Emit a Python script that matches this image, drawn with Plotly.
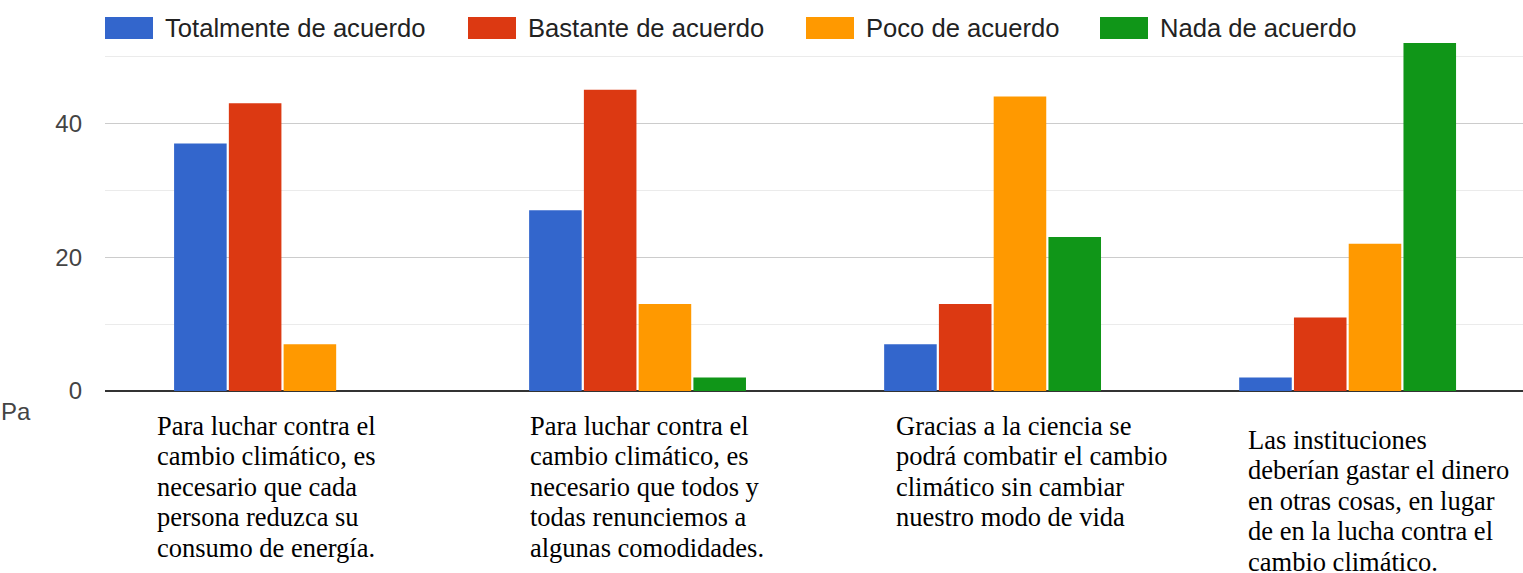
import plotly.graph_objects as go

categories = [
    "Para luchar contra el cambio climático, es necesario que cada persona reduzca su consumo de energía.",
    "Para luchar contra el cambio climático, es necesario que todos y todas renunciemos a algunas comodidades.",
    "Gracias a la ciencia se podrá combatir el cambio climático sin cambiar nuestro modo de vida",
    "Las instituciones deberían gastar el dinero en otras cosas, en lugar de en la lucha contra el cambio climático.",
]
series_names = ["Totalmente de acuerdo", "Bastante de acuerdo", "Poco de acuerdo", "Nada de acuerdo"]
totalmente = [37, 27, 7, 2]
bastante = [43, 45, 13, 11]
poco = [7, 13, 44, 22]
nada = [0, 2, 23, 52]
series_values = [totalmente, bastante, poco, nada]
colors = ["#3366cc", "#dc3912", "#ff9900", "#109618"]

# text boxes overlaid on the category labels (line breaks as in the picture)
label_lines = [
    ["Para luchar contra el", "cambio climático, es", "necesario que cada", "persona reduzca su", "consumo de energía."],
    ["Para luchar contra el", "cambio climático, es", "necesario que todos y", "todas renunciemos a", "algunas comodidades."],
    ["Gracias a la ciencia se", "podrá combatir el cambio", "climático sin cambiar", "nuestro modo de vida"],
    ["Las instituciones", "deberían gastar el dinero", "en otras cosas, en lugar", "de en la lucha contra el", "cambio climático."],
]
y_ticks = [0, 20, 40]

W, H = 1523, 573
ML, MR, MT, MB = 105, 0, 43, 182
PW = W - ML - MR
PH = H - MT - MB


def px(xp):
    return (xp - ML) / PW


def py(yp):
    return (H - MB - yp) / PH


x_idx = list(range(len(categories)))

fig = go.Figure()
for name, vals, col in zip(series_names, series_values, colors):
    fig.add_trace(go.Bar(
        x=x_idx, y=vals, name=name, marker=dict(color=col, line=dict(width=0)),
        showlegend=False,
    ))

shapes = []
annotations = []

# manual legend
leg_sw_x = [105, 468, 806, 1100]
for name, col, sx in zip(series_names, colors, leg_sw_x):
    shapes.append(dict(type="rect", xref="paper", yref="paper",
                       x0=px(sx), x1=px(sx + 48), y0=py(39), y1=py(17),
                       fillcolor=col, line=dict(width=0)))
    annotations.append(dict(xref="paper", yref="paper", x=px(sx + 58), y=py(28),
                            xanchor="left", yanchor="middle", text=name, showarrow=False,
                            font=dict(family="Liberation Sans, Arial, sans-serif", size=25.6, color="#222222")))

# remnant of original label
annotations.append(dict(xref="paper", yref="paper", x=px(-1), y=py(411),
                        xanchor="left", yanchor="middle", text="Pa", showarrow=False,
                        font=dict(family="Liberation Sans, Arial, sans-serif", size=24, color="#444444")))

# overlaid serif text boxes
box_pos = [(155, 426), (528, 426), (894, 426), (1246, 440)]
line_h = 30.4
for lines, (bx, by) in zip(label_lines, box_pos):
    for i, ln in enumerate(lines):
        annotations.append(dict(xref="paper", yref="paper", x=px(bx), y=py(by + i * line_h),
                                xanchor="left", yanchor="middle", text=ln, showarrow=False,
                                font=dict(family="Liberation Serif, Times New Roman, serif", size=26.5, color="#000000")))

fig.update_layout(
    width=W, height=H,
    margin=dict(l=ML, r=MR, t=MT, b=MB, pad=0),
    paper_bgcolor="white", plot_bgcolor="white",
    barmode="group", bargap=0.383, bargroupgap=0.04,
    shapes=shapes, annotations=annotations,
    showlegend=False,
)
fig.update_xaxes(
    range=[-0.5, 3.494], showticklabels=False, showgrid=False, zeroline=False,
    showline=False, ticks="", fixedrange=True,
)
fig.update_yaxes(
    range=[0, 52], tickvals=y_ticks, ticktext=[str(v) for v in y_ticks],
    showgrid=True, gridcolor="#cccccc", gridwidth=1,
    minor=dict(dtick=10, tick0=0, showgrid=True, gridcolor="#ebebeb", gridwidth=1),
    zeroline=True, zerolinecolor="#333333", zerolinewidth=2,
    tickfont=dict(family="Liberation Sans, Arial, sans-serif", size=24, color="#444444"),
    ticks="", ticklabelstandoff=22, showline=False, fixedrange=True,
)

fig.write_html("out.html", config={"displayModeBar": False},
               post_script="document.body.style.margin='0';document.body.style.overflow='hidden';")
